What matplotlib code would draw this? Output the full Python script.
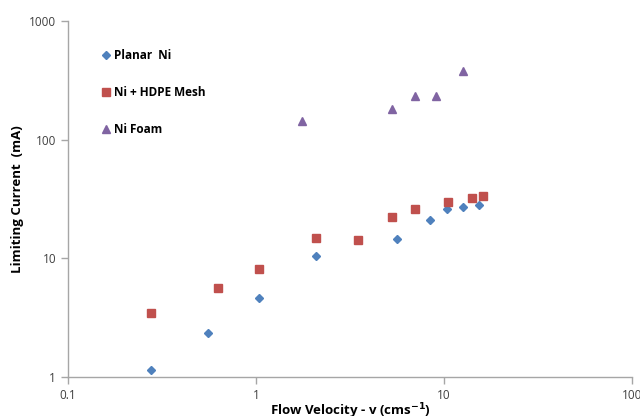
import matplotlib
matplotlib.use("Agg")
import matplotlib.pyplot as plt
from matplotlib.ticker import FuncFormatter, NullLocator

planar_x = [0.276, 0.556, 1.04, 2.08, 5.62, 8.43, 10.4, 12.6, 15.3]
planar_y = [1.15, 2.35, 4.63, 10.5, 14.5, 21.0, 26.0, 27.0, 28.1]

hdpe_x = [0.276, 0.628, 1.04, 2.08, 3.49, 5.29, 7.01, 10.5, 14.1, 16.1]
hdpe_y = [3.46, 5.62, 8.13, 14.8, 14.3, 22.3, 26.0, 29.8, 32.2, 33.5]

foam_x = [1.76, 5.29, 7.01, 9.07, 12.6]
foam_y = [143, 181, 233, 233, 378]

plt.rcParams['font.family'] = ['Open Sans', 'DejaVu Sans']

fig = plt.figure(figsize=(6.4, 4.16), dpi=100)
ax = fig.add_axes([68/640, 39/416, (632-68)/640, (377-21)/416])

ax.plot(planar_x, planar_y, linestyle='none', marker='D', markersize=4,
        color='#4F81BD', label='Planar  Ni')
ax.plot(hdpe_x, hdpe_y, linestyle='none', marker='s', markersize=5.5,
        color='#C0504D', label='Ni + HDPE Mesh')
ax.plot(foam_x, foam_y, linestyle='none', marker='^', markersize=5.5,
        color='#8064A2', label='Ni Foam')

ax.set_xscale('log')
ax.set_yscale('log')
ax.set_xlim(0.1, 100)
ax.set_ylim(1, 1000)
ax.xaxis.set_minor_locator(NullLocator())
ax.yaxis.set_minor_locator(NullLocator())
ax.set_xticks([0.1, 1, 10, 100])
ax.set_yticks([1, 10, 100, 1000])
fmt = FuncFormatter(lambda v, p: ('%g' % v))
ax.xaxis.set_major_formatter(fmt)
ax.yaxis.set_major_formatter(fmt)

for s in ['top', 'right']:
    ax.spines[s].set_visible(False)
for s in ['left', 'bottom']:
    ax.spines[s].set_color('#A6A6A6')
    ax.spines[s].set_linewidth(1.0)
ax.tick_params(axis='both', which='major', length=5, width=1.0, color='#A6A6A6',
               labelsize=8.5, labelcolor='#404040')

ax.set_xlabel('Flow Velocity - v (cms$^{\\mathbf{-1}}$)', fontsize=9.5, fontweight='bold', labelpad=0)
ax.set_ylabel('Limiting Current  (mA)', fontsize=9.5, fontweight='bold', labelpad=4)

leg = ax.legend(loc='upper left', bbox_to_anchor=(0.04, 0.95), frameon=False,
                labelspacing=2.0, handlelength=0.8, handletextpad=0.3,
                prop={'weight': 'bold', 'size': 8.5})

fig.savefig('out.png', dpi=100)
